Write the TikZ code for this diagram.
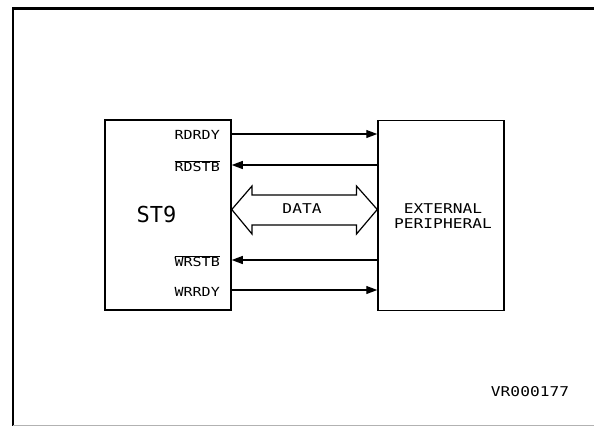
\documentclass[tikz,border=0pt]{standalone}
\usepackage{fontspec}
\newfontfamily\plotfont[FakeStretch=1.2]{DejaVu Sans Mono}
\newfontfamily\bigfont{DejaVu Sans Mono}
\usetikzlibrary{arrows.meta}
\tikzset{
  box/.style={draw, line width=1.5pt, minimum width=126pt, minimum height=190pt, inner sep=0pt},
  sig/.style={line width=1.2pt, -{Triangle[length=11pt,width=8pt]}},
  lbl/.style={anchor=east, inner sep=0pt, font=\plotfont\fontsize{12.5}{13}\selectfont},
  txt/.style={inner sep=0pt, font=\plotfont\fontsize{13.5}{15.5}\selectfont, align=center},
  frame/.style={line width=2.5pt}
}
\begin{document}
\begin{tikzpicture}[x=1pt,y=-1pt]
\useasboundingbox (0,0) rectangle (594,426);
% outer frame
\draw[frame] (594,8.5) -- (13,8.5) -- (13,426);
\draw[gray!60, line width=0.8pt] (13,425) -- (594,425);
% boxes
\node[box] (st9) at (168,215) {};
\node[box] (ext) at (441,215.5) {};
\node[inner sep=0pt, font=\bigfont\fontsize{22}{24}\selectfont] (st9t) at (156.5,214) {ST9};
\node[txt] (extt) at (443,216) {EXTERNAL\\PERIPHERAL};
% signal labels
\node[lbl] (l1) at (220,135) {RDRDY};
\node[lbl] (l2) at (220,166) {$\overline{\mbox{\plotfont\fontsize{12.5}{13}\selectfont RDSTB}}$};
\node[lbl] (l3) at (220,261) {$\overline{\mbox{\plotfont\fontsize{12.5}{13}\selectfont WRSTB}}$};
\node[lbl] (l4) at (220,291.5) {WRRDY};
% signal arrows
\draw[sig] (st9.east |- 0,134) -- (ext.west |- 0,134);
\draw[sig] (ext.west |- 0,165) -- (st9.east |- 0,165);
\draw[sig] (ext.west |- 0,260) -- (st9.east |- 0,260);
\draw[sig] (st9.east |- 0,290) -- (ext.west |- 0,290);
% data bus arrow
\draw[line width=1.2pt, line join=miter]
  (st9.east |- 0,209.5) -- (252,186) -- (252,195) -- (356.5,195) -- (356.5,186)
  -- (ext.west |- 0,209.5) -- (356.5,234) -- (356.5,225) -- (252,225) -- (252,234) -- cycle;
\node[txt] (data) at (302,209) {DATA};
% reference code
\node[txt] (ref) at (530,392) {VR000177};
\end{tikzpicture}
\end{document}
